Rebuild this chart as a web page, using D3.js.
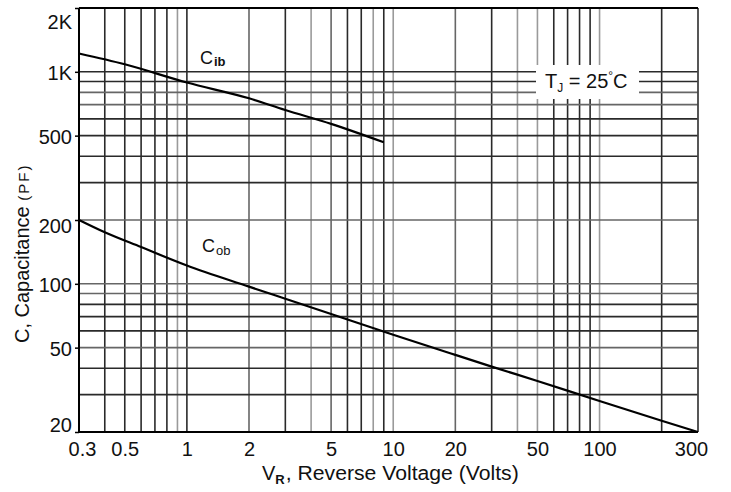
<!DOCTYPE html>
<html>
<head>
<meta charset="utf-8">
<script src="https://cdn.jsdelivr.net/npm/d3@7"></script>
<style>
  html, body { margin: 0; padding: 0; background: #fff; }
  svg { display: block; font-family: "Liberation Sans", Arial, sans-serif; }
</style>
</head>
<body>
<svg id="chart" width="731" height="492"></svg>
<script>
// Reverse voltage (V) and capacitance (pF) readings
const cibVolts = [0.3, 0.5, 1, 2, 3, 5, 9];
const cibPf    = [1220, 1085, 890, 750, 660, 568, 465];

const cobVolts = [0.3, 0.4, 0.6, 1, 2, 3, 5, 10, 20, 30, 50, 100, 200, 300];
const cobPf    = [200, 175, 149, 122, 97, 85, 72, 57.5, 46.2, 40.7, 34.8, 28, 22.6, 20];

// Tick values and labels
const xTickValues = [0.3, 0.5, 1, 2, 5, 10, 20, 50, 100, 300];
const xTickLabels = ["0.3", "0.5", "1", "2", "5", "10", "20", "50", "100", "300"];
const yTickValues = [20, 50, 100, 200, 500, 1000, 2000];
const yTickLabels = ["20", "50", "100", "200", "500", "1K", "2K"];

// Log grid lines
const xGridValues = [0.4, 0.5, 0.6, 0.7, 0.8, 0.9, 1, 2, 3, 4, 5, 6, 7, 8, 9, 10,
                     20, 30, 40, 50, 60, 70, 80, 90, 100, 200];
const yGridValues = [30, 40, 50, 60, 70, 80, 90, 100, 200, 300, 400, 500, 600, 700, 800, 900, 1000];

// Line tone for each grid line (dark / medium / light)
const xGridTone = { 0.4:"d", 0.5:"d", 0.6:"d", 0.7:"d", 0.8:"d", 0.9:"l", 1:"d", 2:"m", 3:"d", 4:"l",
                    5:"m", 6:"d", 7:"d", 8:"l", 9:"d", 10:"l", 20:"m", 30:"d", 40:"l", 50:"l",
                    60:"d", 70:"d", 80:"d", 90:"d", 100:"l", 200:"d" };
const yGridTone = { 30:"d", 40:"d", 50:"m", 60:"d", 70:"d", 80:"d", 90:"m", 100:"m", 200:"m",
                    300:"d", 400:"d", 500:"d", 600:"d", 700:"m", 800:"m", 900:"d", 1000:"d" };
const toneColor = { d: "#2a2a2a", m: "#666", l: "#9a9a9a" };

const svg = d3.select("#chart");
const plotL = 79, plotR = 698, plotT = 8, plotB = 432;

const x = d3.scaleLog().domain([0.3, 300]).range([plotL, plotR]);
const y = d3.scaleLog().domain([20, 2000]).range([plotB, plotT]);

// Grid
const grid = svg.append("g");
grid.selectAll("line.v").data(xGridValues).join("line").attr("class", "v")
  .attr("x1", d => x(d)).attr("x2", d => x(d))
  .attr("y1", plotT).attr("y2", plotB)
  .attr("stroke", d => toneColor[xGridTone[d]])
  .attr("stroke-width", 1.6);
grid.selectAll("line.h").data(yGridValues).join("line").attr("class", "h")
  .attr("x1", plotL).attr("x2", plotR)
  .attr("y1", d => y(d)).attr("y2", d => y(d))
  .attr("stroke", d => toneColor[yGridTone[d]])
  .attr("stroke-width", 1.6);

// Frame
svg.append("line").attr("x1", plotR).attr("x2", plotR).attr("y1", plotT).attr("y2", plotB)
  .attr("stroke", "#444").attr("stroke-width", 1.8);
svg.append("line").attr("x1", plotL).attr("x2", plotR).attr("y1", plotT).attr("y2", plotT)
  .attr("stroke", "#000").attr("stroke-width", 2);
svg.append("line").attr("x1", plotL).attr("x2", plotL).attr("y1", plotT).attr("y2", plotB)
  .attr("stroke", "#000").attr("stroke-width", 2);
svg.append("line").attr("x1", plotL).attr("x2", plotR).attr("y1", plotB).attr("y2", plotB)
  .attr("stroke", "#000").attr("stroke-width", 2);

// Curves
const line = d3.line().x(d => x(d[0])).y(d => y(d[1])).curve(d3.curveMonotoneX);
svg.append("path").datum(d3.zip(cibVolts, cibPf)).attr("d", line)
  .attr("fill", "none").attr("stroke", "#000").attr("stroke-width", 2.2);
svg.append("path").datum(d3.zip(cobVolts, cobPf)).attr("d", line)
  .attr("fill", "none").attr("stroke", "#000").attr("stroke-width", 2.2);

// Axes
const xAxis = d3.axisBottom(x).tickValues(xTickValues)
  .tickFormat((d, i) => xTickLabels[i]).tickSize(0).tickPadding(10);
const gx = svg.append("g").attr("transform", `translate(0,${plotB})`).call(xAxis);
gx.select(".domain").remove();
gx.selectAll("text").attr("font-size", 20).attr("font-family", "Liberation Sans, Arial, sans-serif")
  .attr("fill", "#111")
  .attr("dx", d => d === 0.3 ? 3 : (d === 300 ? -7 : 0));

const yAxis = d3.axisLeft(y).tickValues(yTickValues)
  .tickFormat((d, i) => yTickLabels[i]).tickSize(4).tickPadding(3);
const gy = svg.append("g").attr("transform", `translate(${plotL},0)`).call(yAxis);
gy.select(".domain").remove();
gy.selectAll(".tick line").attr("stroke", "#000").attr("stroke-width", 1.5);
gy.selectAll("text").attr("font-size", 20).attr("font-family", "Liberation Sans, Arial, sans-serif")
  .attr("fill", "#111")
  .attr("dy", d => d === 2000 ? "1.0em" : d === 20 ? "-0.05em" : d === 200 ? "0.62em" : "0.4em");

// Axis titles
const xt = svg.append("text").attr("x", 262).attr("y", 480).attr("font-size", 20).attr("fill", "#111");
xt.append("tspan").text("V");
xt.append("tspan").attr("font-size", 13).attr("font-weight", "bold").attr("dy", 4).text("R");
xt.append("tspan").attr("dy", -4).attr("dx", 1)
  .attr("textLength", 233).attr("lengthAdjust", "spacingAndGlyphs")
  .text(", Reverse Voltage (Volts)");

const yt = svg.append("text").attr("transform", "translate(29,343) rotate(-90)")
  .attr("font-size", 20).attr("fill", "#111");
yt.append("tspan").text("C, Capacitance ");
yt.append("tspan").attr("font-size", 15).attr("letter-spacing", 2).text("(PF)");

// Series labels
const cib = svg.append("text").attr("x", 200).attr("y", 64).attr("font-size", 18).attr("fill", "#111");
cib.append("tspan").text("C");
cib.append("tspan").attr("font-size", 13).attr("font-weight", "bold").attr("dy", 2).attr("dx", 1).text("ib");

const cob = svg.append("text").attr("x", 202).attr("y", 252).attr("font-size", 18).attr("fill", "#111");
cob.append("tspan").text("C");
cob.append("tspan").attr("font-size", 13).attr("dy", 3).attr("dx", 1).text("ob");

// Junction temperature note on a white box
svg.append("rect").attr("x", 536).attr("y", 65).attr("width", 103).attr("height", 34).attr("fill", "#fff");
const tj = svg.append("text").attr("x", 545).attr("y", 88).attr("font-size", 20).attr("fill", "#111");
tj.append("tspan").text("T");
tj.append("tspan").attr("font-size", 12).attr("dy", 4).text("J");
tj.append("tspan").attr("dy", -4).text(" = 25");
tj.append("tspan").attr("font-size", 12).attr("dy", -8).text("°");
tj.append("tspan").attr("dy", 8).text("C");
</script>
</body>
</html>
